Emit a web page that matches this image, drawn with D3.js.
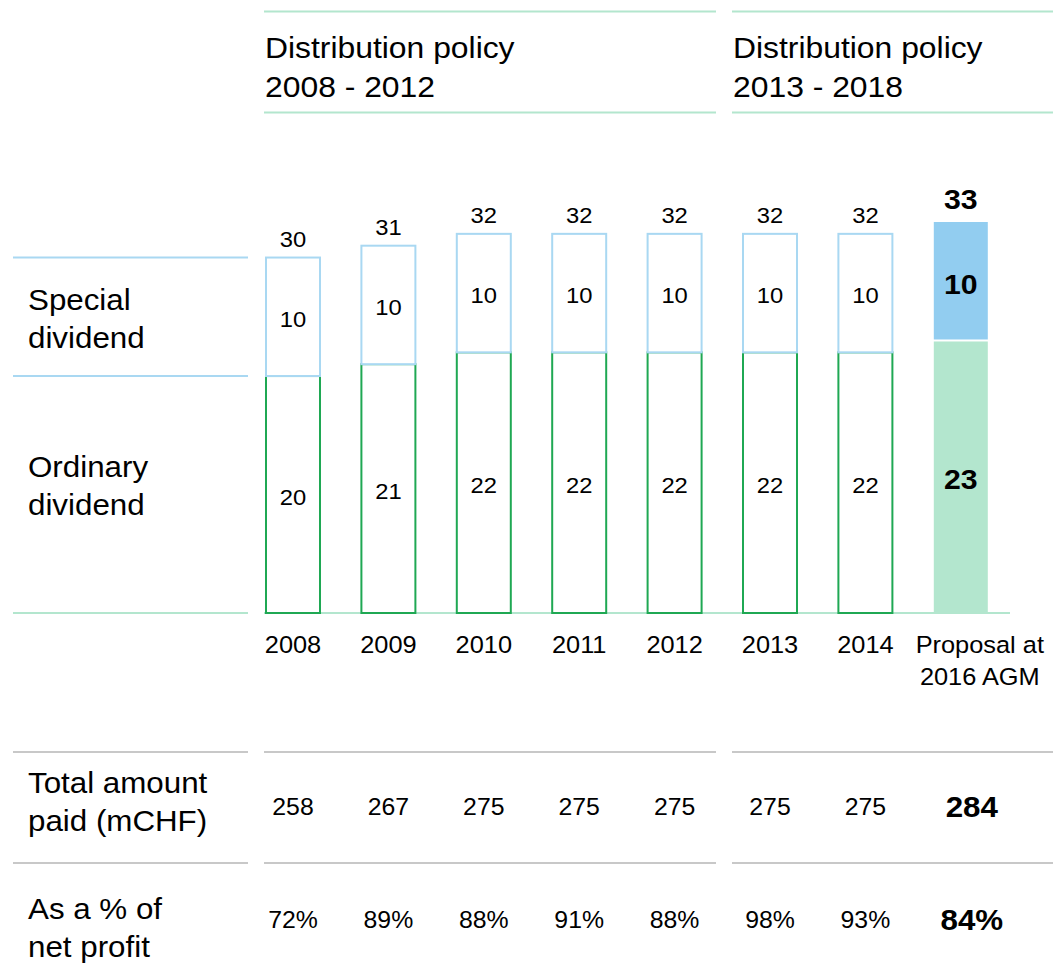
<!DOCTYPE html>
<html>
<head>
<meta charset="utf-8">
<script src="https://cdn.jsdelivr.net/npm/d3@7"></script>
<style>
  body { margin: 0; background: #fff; }
  svg text { fill: #000; }
</style>
</head>
<body>
<div id="chart"></div>
<script>
// Data
const years = ["2008", "2009", "2010", "2011", "2012", "2013", "2014", "Proposal"];
const yearLabels = [["2008"], ["2009"], ["2010"], ["2011"], ["2012"], ["2013"], ["2014"], ["Proposal at", "2016 AGM"]];
const ordinary = [20, 21, 22, 22, 22, 22, 22, 23];
const special = [10, 10, 10, 10, 10, 10, 10, 10];
const totals = [30, 31, 32, 32, 32, 32, 32, 33];
const totalPaid = ["258", "267", "275", "275", "275", "275", "275", "284"];
const pctProfit = ["72%", "89%", "88%", "91%", "88%", "98%", "93%", "84%"];
const policyTitles = [["Distribution policy", "2008 - 2012"], ["Distribution policy", "2013 - 2018"]];

const width = 1053, height = 970;
const svg = d3.select("#chart").append("svg")
    .attr("width", width)
    .attr("height", height)
    .attr("font-family", "'Liberation Sans', Arial, Helvetica, sans-serif");

// the source slide is a little wider than tall, so stretch text slightly
const stretch = 1.08;
function addText(x, y, str, size, opts = {}) {
    const t = svg.append("text")
        .attr("transform", `translate(${x},${y}) scale(${stretch},1)`)
        .attr("font-size", size)
        .attr("text-anchor", opts.anchor || "start")
        .attr("font-weight", opts.bold ? "bold" : "normal")
        .text(str);
    if (opts.middle) t.attr("dy", "0.35em");
    return t;
}

// Scales
const x = d3.scaleBand()
    .domain(years)
    .range([266, 266 + 95.4 * (8 - 0.434)])
    .paddingInner(0.434)
    .paddingOuter(0);

const y = d3.scaleLinear()
    .domain([0, 33])
    .range([613, 222]);

const lightGreen = "#b3e6ce";
const lightBlue = "#a9d8f2";
const green = "#1fa853";
const grey = "#c8c8c8";

// Policy header lines and titles
const groups = [[264, 716], [732, 1053]];
groups.forEach((g, i) => {
    [11.5, 112.5].forEach(yy => {
        svg.append("line")
            .attr("x1", g[0]).attr("x2", g[1])
            .attr("y1", yy).attr("y2", yy)
            .attr("stroke", lightGreen).attr("stroke-width", 2);
    });
    policyTitles[i].forEach((t, j) => {
        addText(g[0] + 1, 58 + j * 39, t, 29.5);
    });
});

// Left row guide lines
[[totals[0], lightBlue], [ordinary[0], lightBlue], [0, lightGreen]].forEach(d => {
    svg.append("line")
        .attr("x1", 13).attr("x2", 248)
        .attr("y1", y(d[0])).attr("y2", y(d[0]))
        .attr("stroke", d[1]).attr("stroke-width", 2);
});
svg.append("line")
    .attr("x1", 264).attr("x2", 1010)
    .attr("y1", y(0)).attr("y2", y(0))
    .attr("stroke", lightGreen).attr("stroke-width", 2);

// Left labels
const leftLabels = [
    {lines: ["Special", "dividend"], y: 310},
    {lines: ["Ordinary", "dividend"], y: 477}
];
leftLabels.forEach(l => {
    l.lines.forEach((t, j) => addText(28, l.y + j * 38, t, 29));
});

// Bars
const bw = x.bandwidth();
years.forEach((yr, i) => {
    const x0 = x(yr);
    const isProposal = i === years.length - 1;
    if (isProposal) {
        svg.append("rect")
            .attr("x", x0).attr("width", bw)
            .attr("y", y(totals[i]))
            .attr("height", y(ordinary[i]) - y(totals[i]) - 1)
            .attr("fill", "#92cdf0");
        svg.append("rect")
            .attr("x", x0).attr("width", bw)
            .attr("y", y(ordinary[i]) + 1)
            .attr("height", y(0) - y(ordinary[i]) - 1)
            .attr("fill", lightGreen);
    } else {
        svg.append("rect")
            .attr("x", x0).attr("width", bw)
            .attr("y", y(ordinary[i]))
            .attr("height", y(0) - y(ordinary[i]))
            .attr("fill", "#fff")
            .attr("stroke", green).attr("stroke-width", 2);
        svg.append("rect")
            .attr("x", x0).attr("width", bw)
            .attr("y", y(totals[i]))
            .attr("height", y(ordinary[i]) - y(totals[i]))
            .attr("fill", "#fff")
            .attr("stroke", lightBlue).attr("stroke-width", 2);
    }

    const cx = x0 + bw / 2;
    const fs = isProposal ? 28 : 22;
    const bold = isProposal;

    // Total above the bar
    addText(cx, y(totals[i]) - (isProposal ? 13 : 11), totals[i], fs, {anchor: "middle", bold});

    // Segment values
    addText(cx, (y(totals[i]) + y(ordinary[i])) / 2 + 2.5, special[i], fs, {anchor: "middle", bold, middle: true});
    addText(cx, (y(ordinary[i]) + y(0)) / 2 + 2.5, ordinary[i], fs, {anchor: "middle", bold, middle: true});

    // Category labels
    const lx = isProposal ? cx + 19 : cx;
    yearLabels[i].forEach((t, j) => {
        addText(lx, 653 + j * 32, t, 23.5, {anchor: "middle"});
    });

    // Table values
    const tx = cx + (isProposal ? 11 : 0);
    const tfs = isProposal ? 29 : 23;
    addText(tx, 807, totalPaid[i], tfs, {anchor: "middle", bold, middle: true});
    addText(tx, 920, pctProfit[i], tfs, {anchor: "middle", bold, middle: true});
});

// Table lines
const tableSegments = [[13, 248], [264, 716], [732, 1053]];
[752, 863].forEach(yy => {
    tableSegments.forEach(s => {
        svg.append("line")
            .attr("x1", s[0]).attr("x2", s[1])
            .attr("y1", yy).attr("y2", yy)
            .attr("stroke", grey).attr("stroke-width", 2);
    });
});

// Table row labels
const rowLabels = [
    {lines: ["Total amount", "paid (mCHF)"], y: 793},
    {lines: ["As a % of", "net profit"], y: 919}
];
rowLabels.forEach(r => {
    r.lines.forEach((t, j) => addText(28, r.y + j * 37.5, t, 29));
});
</script>
</body>
</html>
